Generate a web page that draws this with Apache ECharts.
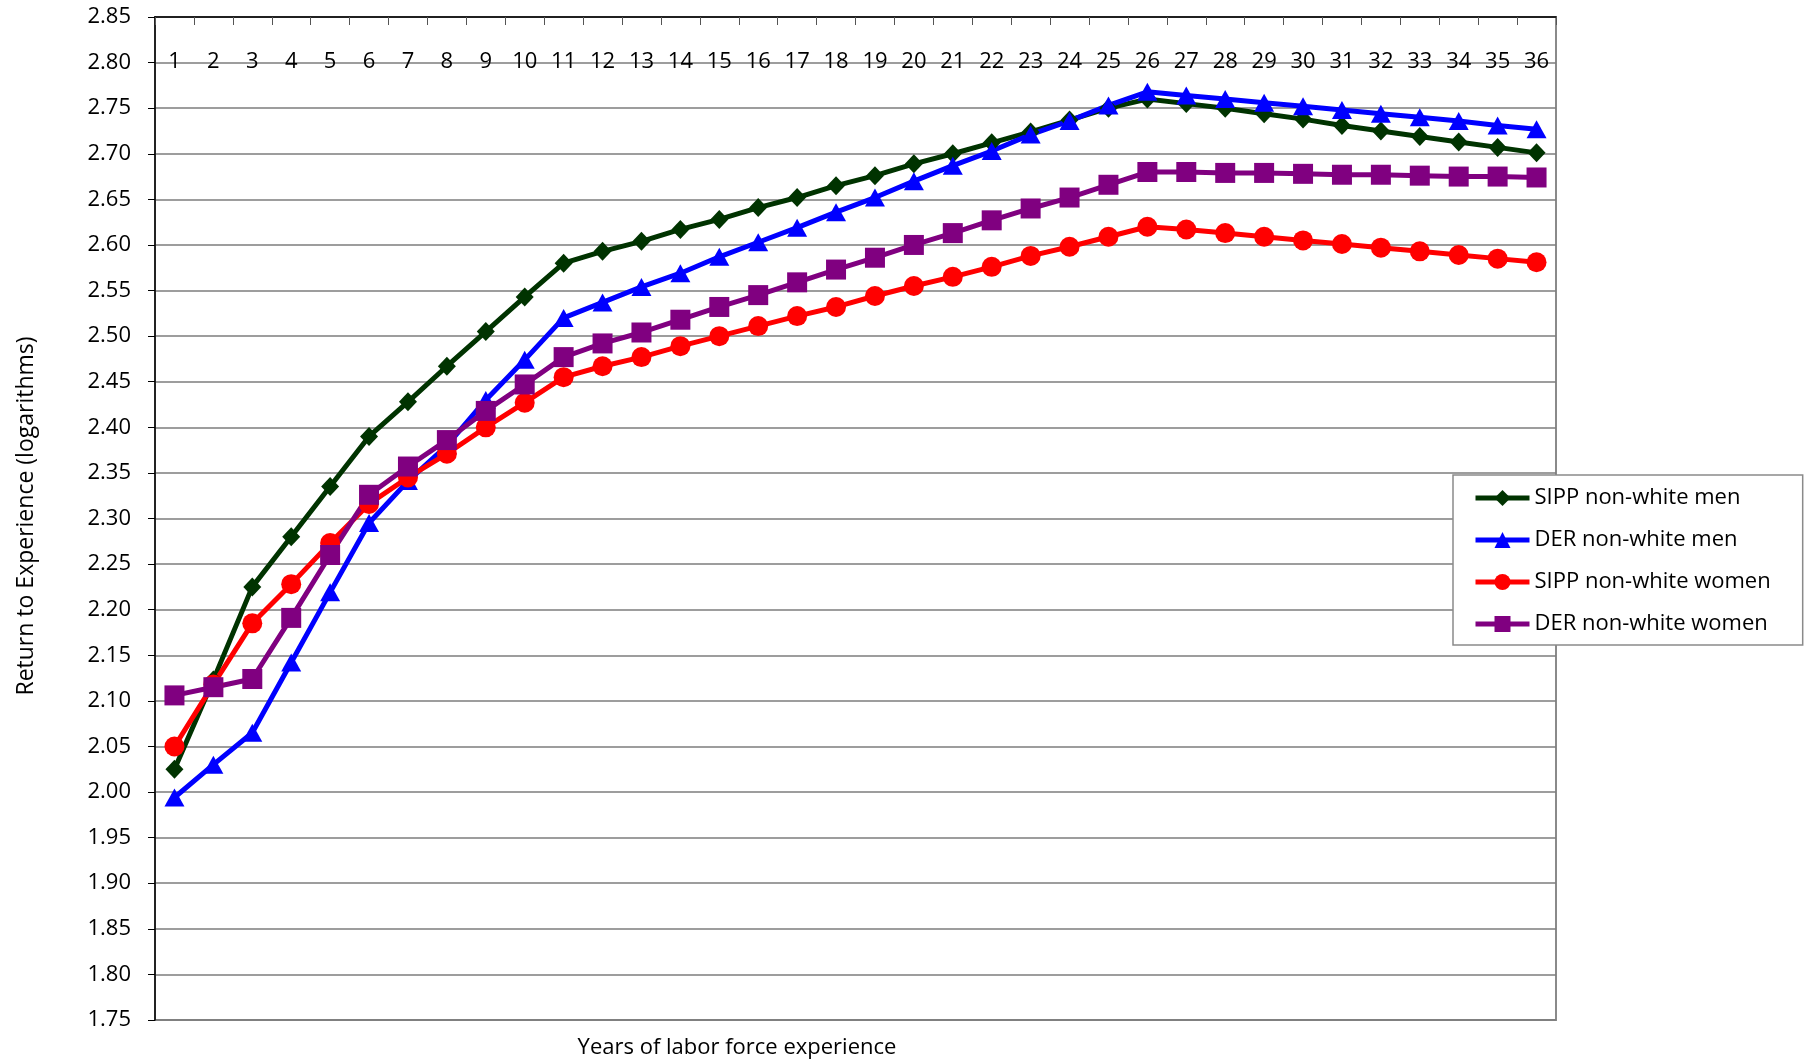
<!DOCTYPE html>
<html>
<head>
<meta charset="utf-8">
<title>Return to Experience</title>
<script src="https://cdn.jsdelivr.net/npm/echarts@6/dist/echarts.min.js"></script>
<style>
  html, body { margin: 0; padding: 0; background: #fff; }
  #chart { width: 1811px; height: 1062px; }
</style>
</head>
<body>
<div id="chart"></div>
<script>
// Years of labor force experience
const years = Array.from({ length: 36 }, (_, i) => String(i + 1));

// Estimated return to experience (logarithms)
const sippMen = [2.025, 2.123, 2.225, 2.280, 2.335, 2.390, 2.428, 2.467, 2.505, 2.543,
  2.580, 2.593, 2.604, 2.617, 2.628, 2.641, 2.652, 2.665, 2.676, 2.689,
  2.700, 2.712, 2.724, 2.737, 2.750, 2.760, 2.755, 2.750, 2.744, 2.738,
  2.731, 2.725, 2.719, 2.713, 2.707, 2.701];
const derMen = [1.994, 2.030, 2.065, 2.142, 2.219, 2.295, 2.341, 2.380, 2.430, 2.474,
  2.520, 2.537, 2.554, 2.569, 2.587, 2.603, 2.619, 2.636, 2.652, 2.670,
  2.687, 2.703, 2.721, 2.736, 2.753, 2.768, 2.764, 2.760, 2.756, 2.752,
  2.748, 2.744, 2.740, 2.736, 2.731, 2.727];
const sippWomen = [2.050, 2.118, 2.185, 2.228, 2.273, 2.316, 2.345, 2.371, 2.400, 2.427,
  2.455, 2.467, 2.477, 2.489, 2.500, 2.511, 2.522, 2.532, 2.544, 2.555,
  2.565, 2.576, 2.588, 2.598, 2.609, 2.620, 2.617, 2.613, 2.609, 2.605,
  2.601, 2.597, 2.593, 2.589, 2.585, 2.581];
const derWomen = [2.106, 2.115, 2.124, 2.191, 2.260, 2.326, 2.357, 2.386, 2.418, 2.447,
  2.477, 2.492, 2.504, 2.518, 2.532, 2.545, 2.559, 2.573, 2.586, 2.600,
  2.613, 2.627, 2.640, 2.652, 2.666, 2.680, 2.680, 2.679, 2.679, 2.678,
  2.677, 2.677, 2.676, 2.675, 2.675, 2.674];

const seriesNames = ['SIPP non-white men', 'DER non-white men', 'SIPP non-white women', 'DER non-white women'];

const FONT = '"Open Sans", "Noto Sans", sans-serif';

const chart = echarts.init(document.getElementById('chart'), null, { renderer: 'canvas' });

function lineSeries(name, data, color, symbol, size) {
  return {
    name: name,
    type: 'line',
    data: data,
    symbol: symbol,
    symbolSize: size,
    showAllSymbol: true,
    lineStyle: { color: color, width: 5 },
    itemStyle: { color: color, borderWidth: 0 },
    emphasis: { disabled: true },
    animation: false
  };
}

chart.setOption({
  backgroundColor: '#fff',
  animation: false,
  textStyle: { fontFamily: FONT },
  grid: {
    left: 155, right: 255, top: 17, bottom: 42,
    show: true, borderColor: '#8a8a8a', borderWidth: 2, backgroundColor: 'transparent'
  },
  xAxis: {
    type: 'category',
    data: years,
    position: 'top',
    boundaryGap: true,
    axisLine: { show: true, lineStyle: { color: '#000', width: 1.5 } },
    axisTick: { show: true, inside: true, length: 8, interval: 0, lineStyle: { color: '#555' } },
    axisLabel: {
      show: true, inside: true, interval: 0, margin: 34,
      color: '#000', fontSize: 22, fontFamily: FONT
    },
    splitLine: { show: false }
  },
  yAxis: {
    type: 'value',
    min: 1.75, max: 2.85, interval: 0.05,
    axisLine: { show: true, lineStyle: { color: '#000', width: 1.5 } },
    axisTick: { show: true, inside: false, length: 7, lineStyle: { color: '#000' } },
    axisLabel: {
      color: '#000', fontSize: 22, fontFamily: FONT, margin: 24,
      formatter: v => v.toFixed(2)
    },
    splitLine: { show: true, lineStyle: { color: '#7c7c7c', width: 1.5 } }
  },
  legend: {
    orient: 'vertical',
    left: 1453, top: 475,
    backgroundColor: '#fff',
    borderColor: '#8a8a8a', borderWidth: 1.5,
    padding: [12, 32, 10, 20],
    itemWidth: 54, itemHeight: 20, itemGap: 20,
    lineStyle: { width: 5 },
    textStyle: { fontSize: 22, color: '#000', fontFamily: FONT, lineHeight: 22 },
    data: seriesNames
  },
  graphic: [
    {
      type: 'text', x: 26, y: 516, rotation: Math.PI / 2,
      style: {
        text: 'Return to Experience (logarithms)', fill: '#000',
        font: '23px ' + FONT, textAlign: 'center', textVerticalAlign: 'middle'
      }
    },
    {
      type: 'text', x: 737, y: 1048,
      style: {
        text: 'Years of labor force experience', fill: '#000',
        font: '22px ' + FONT, textAlign: 'center', textVerticalAlign: 'middle'
      }
    }
  ],
  series: [
    lineSeries(seriesNames[0], sippMen, '#003300', 'diamond', [18, 19]),
    lineSeries(seriesNames[1], derMen, '#0000ff', 'triangle', [20, 18]),
    lineSeries(seriesNames[2], sippWomen, '#ff0000', 'circle', 20),
    lineSeries(seriesNames[3], derWomen, '#800080', 'rect', 20)
  ]
});
</script>
</body>
</html>
